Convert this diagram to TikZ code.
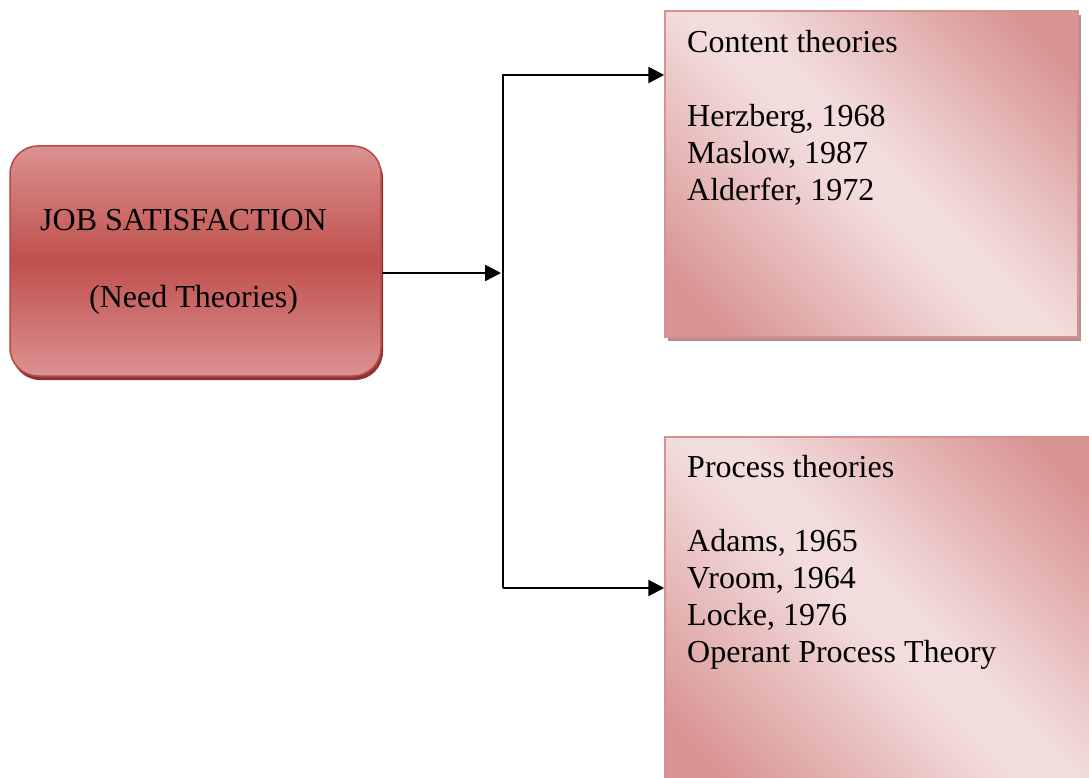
\documentclass[tikz,border=0pt]{standalone}
\usepackage{fontspec}
\setmainfont{Liberation Serif}
\usetikzlibrary{arrows.meta,shadows}

% palette
\definecolor{jobtop}{RGB}{218,146,145}
\definecolor{jobmid}{RGB}{192,80,77}
\definecolor{jobedge}{RGB}{184,72,69}
\definecolor{jobshadow}{RGB}{140,52,50}
\definecolor{pinkdark}{RGB}{217,149,148}
\definecolor{pinklight}{RGB}{242,221,220}
\definecolor{pinkedge}{RGB}{214,146,145}
\definecolor{pinkshadow}{RGB}{186,142,142}

% diagonal fill of the theory boxes: dark corners, light band along the diagonal
\pgfdeclareverticalshading{theoryshade}{100bp}{%
  color(0bp)=(pinkdark); color(21bp)=(pinkdark);
  color(47bp)=(pinklight); color(53bp)=(pinklight);
  color(79bp)=(pinkdark); color(100bp)=(pinkdark)}

\tikzset{
  txt/.style={font=\fontsize{32}{37}\selectfont, inner sep=0pt, text=black},
  jobbox/.style={rectangle, rounded corners=28pt, draw=jobedge, line width=1.5pt,
    top color=jobtop, bottom color=jobtop, middle color=jobmid,
    drop shadow={shadow xshift=2pt, shadow yshift=-4pt, fill=jobshadow, opacity=1},
    minimum width=371pt, minimum height=230pt, inner sep=0pt},
  theorybox/.style={rectangle, draw=pinkedge, line width=1.5pt,
    shading=theoryshade, shading angle=-45,
    drop shadow={shadow xshift=3pt, shadow yshift=-4pt, fill=pinkshadow, opacity=1},
    inner sep=0pt},
  link/.style={line width=2.4pt, draw=black},
  arr/.style={link, -{Triangle[length=16pt,width=16pt]}}
}

\begin{document}
\begin{tikzpicture}[x=1pt, y={(0pt,-1pt)}]
  \useasboundingbox (0,0) rectangle (1089,778);
  \clip (0,0) rectangle (1089,778);

  % main box
  \node[jobbox] (job) at (195.5,261) {};
  \node[txt, anchor=base west] (jobtitle) at (40,230) {JOB SATISFACTION};
  \node[txt, anchor=base west] (jobsub) at (89,307) {(Need Theories)};

  % theory boxes
  \node[theorybox, minimum width=413pt, minimum height=326pt] (content) at (871.5,174) {};
  \node[theorybox, minimum width=435pt, minimum height=353pt] (process) at (882.5,613.5) {};

  \node[txt, anchor=north west, align=left] (contentlist) at (687,30)
    {Content theories\\[37pt]Herzberg, 1968\\Maslow, 1987\\Alderfer, 1972};
  \node[txt, anchor=north west, align=left] (processlist) at (687,455)
    {Process theories\\[37pt]Adams, 1965\\Vroom, 1964\\Locke, 1976\\Operant Process Theory};

  % branching connector
  \coordinate (hubtop) at (503,75);
  \coordinate (hubmid) at (501,273);
  \coordinate (hubbot) at (503,588);

  \draw[arr] (job.east |- hubmid) -- (hubmid);
  \draw[arr] (hubbot) -- (hubtop) -- (content.west |- hubtop);
  \draw[arr] (hubbot) -- (process.west |- hubbot);
\end{tikzpicture}
\end{document}
